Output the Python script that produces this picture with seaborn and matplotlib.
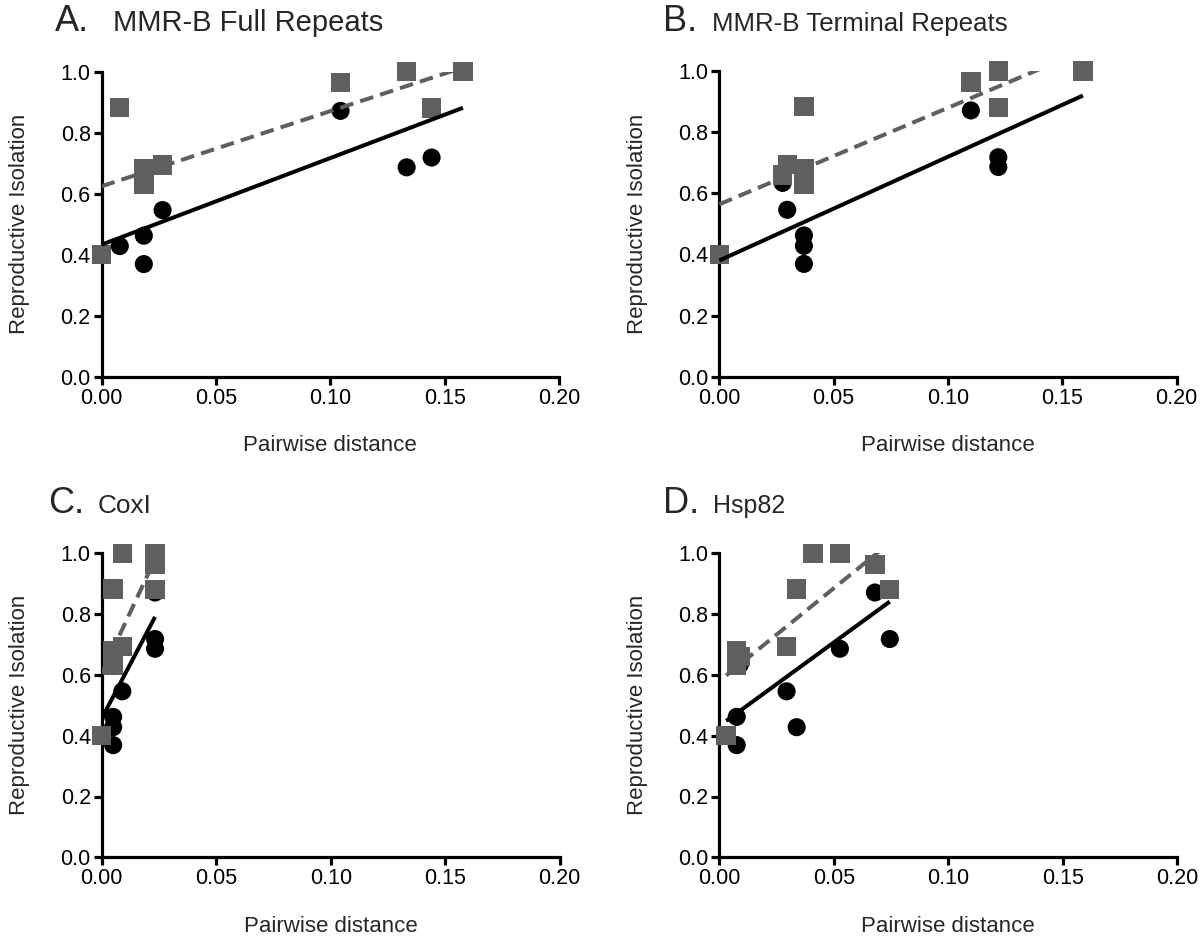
import matplotlib

matplotlib.use("Agg")
import matplotlib.pyplot as plt
import pandas as pd
import seaborn as sns

# ten species pairs, same order in every panel
BLACK_RI = [0.40, 0.428, 0.462, 0.369, 0.634, 0.546, 0.871, 0.686, 0.718, 1.0]
GRAY_RI = [0.40, 0.883, 0.68, 0.63, 0.66, 0.694, 0.964, 1.0, 0.88, 1.0]

X_FULL = [0.0, 0.008, 0.0185, 0.0185, 0.0185, 0.0267, 0.1045, 0.1334, 0.1443, 0.158]
X_TERMINAL = [0.0, 0.037, 0.037, 0.037, 0.0277, 0.0297, 0.110, 0.122, 0.122, 0.159]
X_COXI = [0.0, 0.005, 0.005, 0.005, 0.005, 0.009, 0.0233, 0.0233, 0.0233, 0.009]
X_HSP82 = [0.003, 0.0338, 0.0076, 0.0076, 0.009, 0.0294, 0.068, 0.0527, 0.0745, 0.041]

PANEL_LETTERS = ["A.", "B.", "C.", "D."]
PANEL_TITLES = ["MMR-B Full Repeats", "MMR-B Terminal Repeats", "CoxI", "Hsp82"]
PANEL_X = [X_FULL, X_TERMINAL, X_COXI, X_HSP82]

X_TICKS = [0.0, 0.05, 0.10, 0.15, 0.20]
Y_TICKS = [0.0, 0.2, 0.4, 0.6, 0.8, 1.0]

GRAY = "#5f5f5f"
W, H = 1200, 938

sns.set_theme(style="ticks")
plt.rcParams["font.family"] = ["Liberation Sans", "DejaVu Sans"]
plt.rcParams["axes.linewidth"] = 2.3

fig = plt.figure(figsize=(W / 100, H / 100), dpi=100)

# axes boxes in pixels: left, top(y=1.0), right(x=0.2), bottom(y=0)
boxes = [
    (101.5, 71.5, 559, 376.7),
    (719.3, 71.0, 1176.7, 376.7),
    (101.7, 553.3, 559.7, 857.3),
    (719.3, 553.3, 1177, 857.3),
]
# title positions: letter x, text x, baseline y, text size
titles = [
    (55, 113, 31, 21),
    (663, 712, 31, 18.6),
    (48, 98, 513, 18.8),
    (663, 713, 513, 18),
]

for i in range(4):
    l, t, r, b = boxes[i]
    ax = fig.add_axes([l / W, 1 - b / H, (r - l) / W, (b - t) / H])
    df = pd.DataFrame({"x": PANEL_X[i], "black": BLACK_RI, "gray": GRAY_RI})

    sns.scatterplot(data=df, x="x", y="black", ax=ax, color="black", marker="o",
                    s=170, edgecolor="none", clip_on=False, zorder=3)
    sns.scatterplot(data=df, x="x", y="gray", ax=ax, color=GRAY, marker="s",
                    s=195, edgecolor="none", clip_on=False, zorder=4)
    sns.regplot(data=df, x="x", y="black", ax=ax, scatter=False, ci=None, truncate=True,
                line_kws={"color": "black", "lw": 2.9, "zorder": 5, "solid_capstyle": "butt"})
    sns.regplot(data=df, x="x", y="gray", ax=ax, scatter=False, ci=None, truncate=True,
                line_kws={"color": GRAY, "lw": 2.9, "zorder": 6, "dashes": (3.4, 1.8)})

    ax.set_xlim(0, 0.2)
    ax.set_ylim(0, 1.0)
    ax.set_xticks(X_TICKS)
    ax.set_yticks(Y_TICKS)
    ax.set_xticklabels([f"{v:.2f}" for v in X_TICKS])
    ax.set_yticklabels([f"{v:.1f}" for v in Y_TICKS])
    ax.tick_params(width=2.3, length=5.8, pad=2, labelsize=15.5, colors="black")
    ax.set_xlabel("Pairwise distance", fontsize=16, labelpad=19)
    ax.set_ylabel("Reproductive Isolation", fontsize=16, labelpad=22)
    sns.despine(ax=ax)
    for side in ["left", "bottom"]:
        ax.spines[side].set_color("black")

    lx, tx, by, fs = titles[i]
    fig.text(lx / W, 1 - by / H, PANEL_LETTERS[i], fontsize=26, ha="left", va="baseline")
    fig.text(tx / W, 1 - by / H, PANEL_TITLES[i], fontsize=fs, ha="left", va="baseline")

fig.savefig("out.png", dpi=100)
